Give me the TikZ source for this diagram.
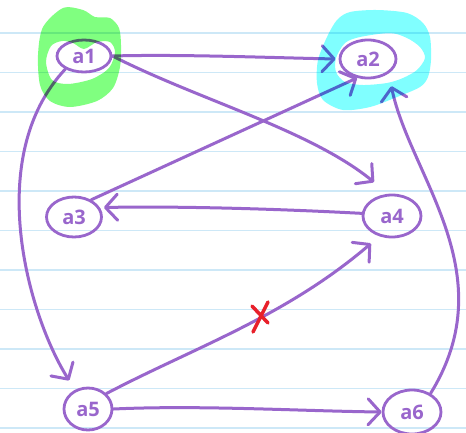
\documentclass[tikz,border=0pt]{standalone}
\usepackage{fontspec}
\setmainfont{Open Sans}
\usetikzlibrary{shapes.geometric,arrows.meta}
\definecolor{ink}{HTML}{9966CC}
\definecolor{rule}{HTML}{CDE8F7}
\definecolor{hlgreen}{HTML}{80FF80}
\definecolor{hlcyan}{HTML}{80FFFF}
\definecolor{cross}{HTML}{E8202A}
\begin{document}
\begin{tikzpicture}[x=1pt,y=-1pt,
  state/.style={ellipse, draw=ink, line width=2.8pt, inner sep=0pt, text=ink,
    font=\fontsize{20}{20}\selectfont\bfseries},
  edge/.style={draw=ink, line width=3pt, line cap=round, line join=round,
    -{Straight Barb[length=12pt,width=26pt,round]}},
  ruling/.style={rule, line width=1.6pt},
  marker/.style={blend mode=multiply, even odd rule}
]
\useasboundingbox (0,0) rectangle (466,432);
\fill[white] (0,0) rectangle (466,432);

% ruled notebook paper
\foreach \k in {0,...,10}
  \draw[ruling] (0,33+39.5*\k) -- (466,33+39.5*\k);

% states
\node[state, minimum width=54pt, minimum height=32pt] (a1) at (84,56)  {a1};
\node[state, minimum width=56pt, minimum height=38pt] (a2) at (368,59) {a2};
\node[state, minimum width=55pt, minimum height=40pt] (a3) at (74,217) {a3};
\node[state, minimum width=58pt, minimum height=42pt] (a4) at (392,216) {a4};
\node[state, minimum width=48pt, minimum height=42pt] (a5) at (88,409) {a5};
\node[state, minimum width=58pt, minimum height=44pt] (a6) at (412,412) {a6};

% transitions
\draw[edge, shorten >=3pt] (a1.east) .. controls (180,54) and (280,58) .. (a2.west);
\draw[edge] (a1.east) .. controls (199,100) and (310,130) .. ([shift={(3.5,-18)}]a4.north west);
\draw[edge, shorten >=11pt] (a1.215) .. controls (-17,157) and (28,315) .. (a5.124);
\draw[edge] (a3.45) -- (a2.240);
\draw[edge, shorten >=4pt] (a4.175) .. controls (280,209) and (180,206) .. (a3.20);
\draw[edge, shorten >=11pt] (a5.40) .. controls (193,348) and (285,317) .. (a4.238);
\draw[edge] (a5.east) .. controls (200,405) and (300,411) .. (a6.west);
\draw[edge, shorten >=13pt] (a6.45) .. controls (505,273) and (410,176) .. (a2.325);

% crossed-out transition
\draw[cross, line width=3.5pt, line cap=round]
  (252,306) -- (268,323) (268,302) -- (253,332);

% highlighter rings around the start and goal states
\fill[hlgreen, marker]
  plot[smooth cycle] coordinates {(43,27) (63,8) (83,10) (95,17) (110,18) (119,28)
    (121,45) (120,67) (113,88) (97,101) (70,107) (50,101) (40,85) (38,55)}
  plot[smooth cycle] coordinates {(46,62) (51,46) (62,41) (73,43) (84,49) (97,42)
    (110,42) (115,52) (109,68) (92,79) (68,84) (52,80)};
\fill[hlcyan, marker]
  plot[smooth cycle] coordinates {(350,12) (377,10) (407,13) (423,23) (430,37)
    (431,60) (428,77) (420,87) (397,97) (370,107) (343,110) (323,100) (317,83)
    (318,60) (327,37) (337,20)}
  plot[smooth cycle] coordinates {(336,58) (345,43) (360,37) (390,33) (407,38)
    (420,47) (425,58) (417,70) (403,78) (387,83) (363,85) (345,82) (336,72)};
\end{tikzpicture}
\end{document}
